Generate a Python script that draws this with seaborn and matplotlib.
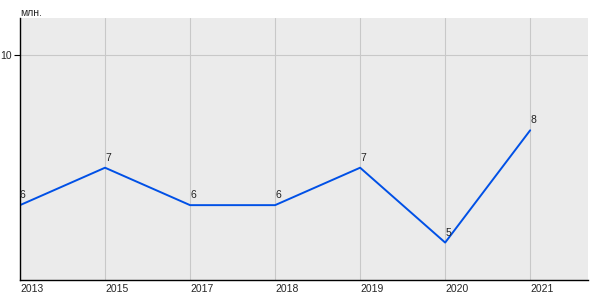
import matplotlib
matplotlib.use("Agg")
import matplotlib.pyplot as plt
import seaborn as sns
import pandas as pd

years = ["2013", "2015", "2017", "2018", "2019", "2020", "2021"]
values = [6, 7, 6, 6, 7, 5, 8]
unit_label = "млн."

sns.set_theme(style="white")
plt.rcParams["font.family"] = ["Liberation Sans", "DejaVu Sans"]

df = pd.DataFrame({"year": years, "value": values})

fig = plt.figure(figsize=(6, 3), dpi=100)
ax = fig.add_axes([20/600, 20/300, 568/600, 262/300])
ax.set_facecolor("#EBEBEB")

sns.lineplot(data=df, x="year", y="value", ax=ax, color="#0050E6", linewidth=1.4,
             sort=False)

ax.set_xlim(0, 6.68)
ax.set_ylim(4, 11)
ax.set_yticks([10])
ax.set_yticklabels(["10"], fontsize=7.5)
ax.set_xticks(range(len(years)))
ax.set_xticklabels(years, fontsize=7.5, ha="left")
ax.tick_params(axis="x", length=0, pad=3)
ax.tick_params(axis="y", length=4, width=0.8, color="black", pad=2, left=True)
ax.grid(True, color="#C8C8C8", linewidth=0.8)
ax.set_axisbelow(True)
ax.set_xlabel("")
ax.set_ylabel("")
for s in ["top", "right"]:
    ax.spines[s].set_visible(False)
for s in ["left", "bottom"]:
    ax.spines[s].set_color("black")
    ax.spines[s].set_linewidth(1.0)

for i, v in enumerate(values):
    ax.annotate(str(v), (i, v), xytext=(0, 3.5), textcoords="offset points",
                fontsize=7.5, ha="left", va="bottom", color="#222222")

fig.text(20/600, 1 - 13/300, unit_label, fontsize=7.5, ha="left", va="center")

fig.savefig("out.png", dpi=100)
